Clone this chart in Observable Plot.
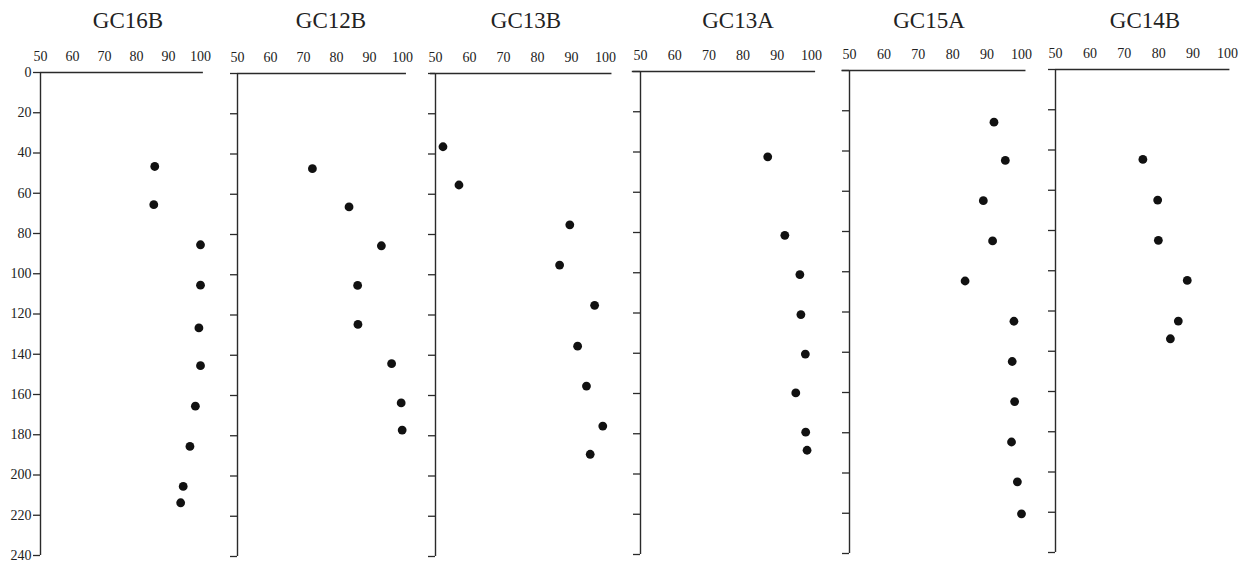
<!DOCTYPE html>
<html>
<head>
<meta charset="utf-8">
<script src="https://cdn.jsdelivr.net/npm/d3@7"></script>
<script src="https://cdn.jsdelivr.net/npm/@observablehq/plot@0.6"></script>
<style>
  body { margin: 0; background: #fff; }
  #chart { position: relative; width: 1247px; height: 563px; overflow: hidden;
           font-family: "Liberation Serif", "Times New Roman", serif; color: #222; }
  .title { position: absolute; top: 9px; width: 140px; text-align: center;
           font-size: 23px; line-height: 23px; color: #222; }
</style>
</head>
<body>
<div id="chart"></div>
<script>
// Core names
const cores = ["GC16B", "GC12B", "GC13B", "GC13A", "GC15A", "GC14B"];

// Sample depth (cm) per core
const gc16bDepth = [46.7, 65.7, 85.6, 105.7, 126.9, 145.7, 165.8, 185.8, 205.7, 213.8];
const gc12bDepth = [47.3, 66.3, 85.6, 105.3, 124.7, 144.2, 163.7, 177.2];
const gc13bDepth = [36.4, 55.4, 75.2, 95.2, 115.2, 135.5, 155.3, 175.2, 189.2];
const gc13aDepth = [42.4, 81.4, 100.9, 120.8, 140.4, 159.7, 179.2, 188.2];
const gc15aDepth = [25.7, 44.7, 64.7, 84.7, 104.6, 124.6, 144.6, 164.5, 184.6, 204.4, 220.3];
const gc14bDepth = [44.7, 64.9, 84.9, 104.8, 125.0, 133.8];

// Measured value (%) per core
const gc16bValue = [85.7, 85.4, 100.0, 100.0, 99.5, 100.0, 98.4, 96.7, 94.6, 93.8];
const gc12bValue = [72.7, 83.8, 93.6, 86.4, 86.5, 96.7, 99.6, 99.9];
const gc13bValue = [52.2, 56.9, 89.5, 86.5, 96.8, 91.8, 94.4, 99.2, 95.5];
const gc13aValue = [87.2, 92.2, 96.6, 96.9, 98.2, 95.4, 98.3, 98.7];
const gc15aValue = [92.0, 95.3, 88.9, 91.6, 83.6, 97.8, 97.3, 98.0, 97.1, 98.8, 100.0];
const gc14bValue = [75.4, 79.7, 79.9, 88.3, 85.7, 83.4];

// Axis ticks
const xTicks = [50, 60, 70, 80, 90, 100];
const yTicks = [0, 20, 40, 60, 80, 100, 120, 140, 160, 180, 200, 220, 240];

const depths = [gc16bDepth, gc12bDepth, gc13bDepth, gc13aDepth, gc15aDepth, gc14bDepth];
const values = [gc16bValue, gc12bValue, gc13bValue, gc13aValue, gc15aValue, gc14bValue];

// Panel placement on the page: left edge of the depth axis, top of the plot frame,
// plot width, title centre, and the extent of the top rule in value units.
const layout = [
  {left: 40,    top: 72,   width: 160, titleX: 128,  x1: 50,   x2: 100.9},
  {left: 236.7, top: 72.7, width: 165, titleX: 331,  x1: 50,   x2: 101.2},
  {left: 434.7, top: 72.7, width: 170, titleX: 526,  x1: 48.5, x2: 101.9},
  {left: 640,   top: 71,   width: 171, titleX: 738,  x1: 47.6, x2: 101.2},
  {left: 849.3, top: 70,   width: 172, titleX: 929,  x1: 47.8, x2: 101.3},
  {left: 1055,  top: 68.5, width: 172, titleX: 1145, x1: 50,   x2: 100.7}
];

const chart = document.getElementById("chart");
const ink = "#2a2a2a";
const plotHeight = 483;
const marginTop = 30, marginBottom = 8, marginRight = 14;

cores.forEach((name, i) => {
  const L = layout[i];
  const marginLeft = i === 0 ? 45 : 12;
  const data = depths[i].map((d, j) => ({depth: d, value: values[i][j]}));

  const svg = Plot.plot({
    width: marginLeft + L.width + marginRight,
    height: marginTop + plotHeight + marginBottom,
    marginLeft, marginRight, marginTop, marginBottom,
    x: {domain: [50, 100], axis: null},
    y: {domain: [0, 240], reverse: true, axis: null},
    style: {
      fontFamily: '"Liberation Serif", "Times New Roman", serif',
      fontSize: "14px",
      color: ink,
      background: "transparent",
      overflow: "visible"
    },
    marks: [
      Plot.axisX({anchor: "top", ticks: xTicks, tickSize: 0, tickPadding: 12, label: null,
                  tickFormat: d => String(d), fontSize: 14, fill: "#222"}),
      Plot.ruleY([0], {x1: L.x1, x2: L.x2, stroke: ink, strokeWidth: 1.4}),
      Plot.ruleX([50], {y1: 0, y2: 240, stroke: ink, strokeWidth: 1.4}),
      Plot.axisY({anchor: "left", ticks: yTicks, tickSize: 7, tickPadding: 2, label: null,
                  stroke: ink, strokeWidth: 1.3, fontSize: 14, fill: "#222",
                  tickFormat: i === 0 ? (d => String(d)) : (() => "")}),
      Plot.dot(data, {x: "value", y: "depth", r: 4.4, fill: "#111", stroke: "none"})
    ]
  });
  svg.style.position = "absolute";
  svg.style.left = (L.left - marginLeft) + "px";
  svg.style.top = (L.top - marginTop) + "px";
  chart.appendChild(svg);

  const title = document.createElement("div");
  title.className = "title";
  title.textContent = name;
  title.style.left = (L.titleX - 70) + "px";
  chart.appendChild(title);
});
</script>
</body>
</html>
